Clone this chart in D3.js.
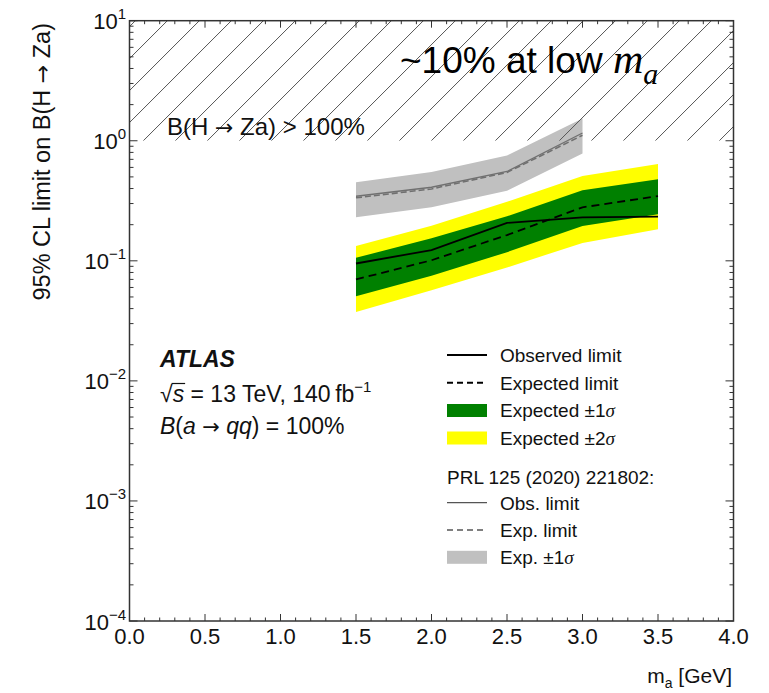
<!DOCTYPE html>
<html><head><meta charset="utf-8">
<script src="https://cdn.jsdelivr.net/npm/d3@7"></script>
<style>
body{margin:0;background:#fff;}
text{font-family:"Liberation Sans",Arial,Helvetica,sans-serif;fill:#111;}
.arr{font-family:"DejaVu Sans",sans-serif;}
</style>
</head><body>
<script>
// ---- data ----
const massNew  = [1.5, 2.0, 2.5, 3.0, 3.5];
const observed = [0.095, 0.123, 0.207, 0.230, 0.233];
const expected = [0.070, 0.101, 0.164, 0.279, 0.346];
const band1Lo  = [0.0508, 0.075, 0.118, 0.195, 0.244];
const band1Hi  = [0.106, 0.154, 0.235, 0.388, 0.477];
const band2Lo  = [0.0374, 0.057, 0.088, 0.141, 0.183];
const band2Hi  = [0.133, 0.196, 0.310, 0.508, 0.640];

const massPRL = [1.5, 2.0, 2.5, 3.0];
const prlObs  = [0.345, 0.410, 0.555, 1.16];
const prlExp  = [0.335, 0.397, 0.545, 1.11];
const prlLo   = [0.231, 0.280, 0.384, 0.785];
const prlHi   = [0.452, 0.548, 0.754, 1.53];

const xTickValues = [0.0, 0.5, 1.0, 1.5, 2.0, 2.5, 3.0, 3.5, 4.0];
const xTickLabels = ["0.0","0.5","1.0","1.5","2.0","2.5","3.0","3.5","4.0"];
const yDecades = [-4, -3, -2, -1, 0, 1];
const yTickExpLabels = ["\u22124","\u22123","\u22122","\u22121","0","1"];
const excludedLimit = 1.0;

const legendNew = [
  {type:"line", dash:null, label:"Observed limit"},
  {type:"line", dash:"6,4", label:"Expected limit"},
  {type:"box", color:"#008000", label:"Expected \u00b11", sigma:true},
  {type:"box", color:"#ffff00", label:"Expected \u00b12", sigma:true}
];
const legendOld = [
  {type:"line", dash:null, label:"Obs. limit"},
  {type:"line", dash:"6,4", label:"Exp. limit"},
  {type:"box", color:"#c0c0c0", label:"Exp. \u00b11", sigma:true}
];

// ---- setup ----
const W = 769, H = 693;
const L = 129.5, R = 733.5, T = 20.7, B = 621;
const svg = d3.select("body").append("svg").attr("width", W).attr("height", H);
const x = d3.scaleLinear().domain([0, 4]).range([L, R]);
const y = d3.scaleLog().domain([1e-4, 10]).range([B, T]);

svg.append("defs").append("clipPath").attr("id","hatchClip")
  .append("rect").attr("x", x(0)).attr("y", y(10))
  .attr("width", x(4)-x(0)).attr("height", y(excludedLimit)-y(10));

// ---- bands ----
const zip = (m, lo, hi) => m.map((v,i)=>({m:v, lo:lo[i], hi:hi[i]}));
const area = d3.area().x(d=>x(d.m)).y0(d=>y(d.lo)).y1(d=>y(d.hi));
const line = d3.line().x(d=>x(d.m)).y(d=>y(d.v));
const pts = (m, v) => m.map((a,i)=>({m:a, v:v[i]}));

svg.append("path").datum(zip(massNew, band2Lo, band2Hi)).attr("d", area).attr("fill", "#ffff00");
svg.append("path").datum(zip(massNew, band1Lo, band1Hi)).attr("d", area).attr("fill", "#008000");
svg.append("path").datum(zip(massPRL, prlLo, prlHi)).attr("d", area).attr("fill", "#c0c0c0");

svg.append("path").datum(pts(massPRL, prlObs)).attr("d", line)
  .attr("fill","none").attr("stroke","#707070").attr("stroke-width",1.3);
svg.append("path").datum(pts(massPRL, prlExp)).attr("d", line)
  .attr("fill","none").attr("stroke","#707070").attr("stroke-width",1.6).attr("stroke-dasharray","6,3");

svg.append("path").datum(pts(massNew, expected)).attr("d", line)
  .attr("fill","none").attr("stroke","#000").attr("stroke-width",1.8).attr("stroke-dasharray","8,5");
svg.append("path").datum(pts(massNew, observed)).attr("d", line)
  .attr("fill","none").attr("stroke","#000").attr("stroke-width",1.8);

// ---- hatched excluded region ----
const hg = svg.append("g").attr("clip-path","url(#hatchClip)");
const yb = y(excludedLimit), yt = y(10), hh = yb - yt;
const spacing = 32, phase = 13.8;
const starts = d3.range(-5, 20).map(k => x(0) + phase + k*spacing);
hg.selectAll("line").data(starts).join("line")
  .attr("x1", d=>d).attr("y1", yb).attr("x2", d=>d+hh).attr("y2", yt)
  .attr("stroke","#555").attr("stroke-width",1);

const exTxt = svg.append("text").attr("x", 167).attr("y", 135).attr("font-size", 24);
exTxt.append("tspan").text("B(H ");
exTxt.append("tspan").attr("class","arr").attr("font-size",22).text("\u2192");
exTxt.append("tspan").text(" Za) > 100%");

// ---- frame & ticks ----
svg.append("rect").attr("x", L).attr("y", T).attr("width", R-L).attr("height", B-T)
  .attr("fill","none").attr("stroke","#333").attr("stroke-width",1.5);

const tg = svg.append("g").attr("stroke","#333").attr("stroke-width",1);
const xMinor = d3.range(0, 41).map(i=>i/10);
xMinor.forEach(v=>{
  const major = Math.abs(v*2 - Math.round(v*2)) < 1e-6;
  const len = major ? 7 : 3.5;
  tg.append("line").attr("x1",x(v)).attr("x2",x(v)).attr("y1",B).attr("y2",B-len);
  tg.append("line").attr("x1",x(v)).attr("x2",x(v)).attr("y1",T).attr("y2",T+len);
});
yDecades.forEach(e=>{
  const v = Math.pow(10,e);
  tg.append("line").attr("x1",L).attr("x2",L+8).attr("y1",y(v)).attr("y2",y(v));
  tg.append("line").attr("x1",R).attr("x2",R-8).attr("y1",y(v)).attr("y2",y(v));
  if (e < 1) {
    for (let k=2;k<=9;k++){
      const vv = k*v;
      tg.append("line").attr("x1",L).attr("x2",L+4).attr("y1",y(vv)).attr("y2",y(vv));
      tg.append("line").attr("x1",R).attr("x2",R-4).attr("y1",y(vv)).attr("y2",y(vv));
    }
  }
});

// x tick labels
svg.append("g").selectAll("text").data(xTickValues).join("text")
  .attr("x", d=>x(d)).attr("y", 644).attr("text-anchor","middle").attr("font-size",22)
  .text((d,i)=>xTickLabels[i]);

// y tick labels
yDecades.forEach((e,i)=>{
  const t = svg.append("text").attr("x", 126).attr("y", y(Math.pow(10,e))+8.5)
    .attr("text-anchor","end").attr("font-size",22);
  t.append("tspan").text("10");
  t.append("tspan").attr("font-size",15).attr("dy",-10).text(yTickExpLabels[i]);
});

// axis titles
const yt2 = svg.append("text").attr("transform","translate(50,23) rotate(-90)")
  .attr("text-anchor","end").attr("font-size",23.5);
yt2.append("tspan").text("95% CL limit on B(H ");
yt2.append("tspan").attr("class","arr").attr("font-size",22).text("\u2192");
yt2.append("tspan").text(" Za)");
const xt = svg.append("text").attr("x", 732).attr("y", 683).attr("text-anchor","end").attr("font-size",21);
xt.append("tspan").text("m");
xt.append("tspan").attr("font-size",14).attr("dy",5).text("a");
xt.append("tspan").attr("dy",-5).text(" [GeV]");

// ---- ATLAS label ----
svg.append("text").attr("x",160).attr("y",367).attr("font-size",23)
  .attr("font-weight","bold").attr("font-style","italic").text("ATLAS");
const l2 = svg.append("text").attr("x",160).attr("y",402).attr("font-size",23);
l2.append("tspan").text("\u221a");
l2.append("tspan").attr("font-style","italic").text("s");
l2.append("tspan").text(" = 13 TeV, 140\u2009fb");
l2.append("tspan").attr("font-size",15).attr("dy",-10).text("\u22121");
{
  const n = l2.node();
  const s0 = n.getStartPositionOfChar(1), s1 = n.getEndPositionOfChar(1);
  svg.append("line").attr("x1", s0.x - 1).attr("x2", s1.x + 1)
    .attr("y1", 402-18.5).attr("y2", 402-18.5).attr("stroke","#111").attr("stroke-width",1.2);
}
const l3 = svg.append("text").attr("x",160).attr("y",434).attr("font-size",23);
l3.append("tspan").attr("font-style","italic").text("B");
l3.append("tspan").text("(");
l3.append("tspan").attr("font-style","italic").text("a ");
l3.append("tspan").attr("class","arr").attr("font-size",21).text("\u2192");
l3.append("tspan").attr("font-style","italic").text(" qq");
l3.append("tspan").text(") = 100%");

// ---- legend ----
const lx = 447, lw = 40, tx = 500, fs = 19;
function drawEntry(e, cy, gray){
  if (e.type === "line"){
    svg.append("line").attr("x1",lx).attr("x2",lx+lw).attr("y1",cy).attr("y2",cy)
      .attr("stroke", gray ? "#555" : "#000").attr("stroke-width", gray ? 1.3 : 2)
      .attr("stroke-dasharray", e.dash);
  } else {
    svg.append("rect").attr("x",lx).attr("y",cy-6.5).attr("width",lw).attr("height",13)
      .attr("fill", e.color);
  }
  const t = svg.append("text").attr("x",tx).attr("y",cy+6.8).attr("font-size",fs);
  t.append("tspan").text(e.label);
  if (e.sigma) t.append("tspan").attr("font-style","italic").attr("font-family","Liberation Serif, serif").text("\u03c3");
}
const newY = [355, 382.7, 410.5, 438];
legendNew.forEach((e,i)=>drawEntry(e, newY[i], false));
svg.append("text").attr("x",lx).attr("y",476.7+6.8).attr("font-size",fs).text("PRL 125 (2020) 221802:");
const oldY = [502.7, 530, 557.3];
legendOld.forEach((e,i)=>drawEntry(e, oldY[i], true));

// ---- slide annotation ----
const ann = svg.append("text").attr("x",400).attr("y",73).attr("font-size",37).style("fill","#000");
ann.append("tspan").text("~10% at low ");
ann.append("tspan").attr("font-family","Liberation Serif, serif").attr("font-style","italic").attr("font-size",42).text("m");
ann.append("tspan").attr("font-family","Liberation Serif, serif").attr("font-style","italic").attr("font-size",30).attr("dy",11).text("a");
</script>
</body></html>
